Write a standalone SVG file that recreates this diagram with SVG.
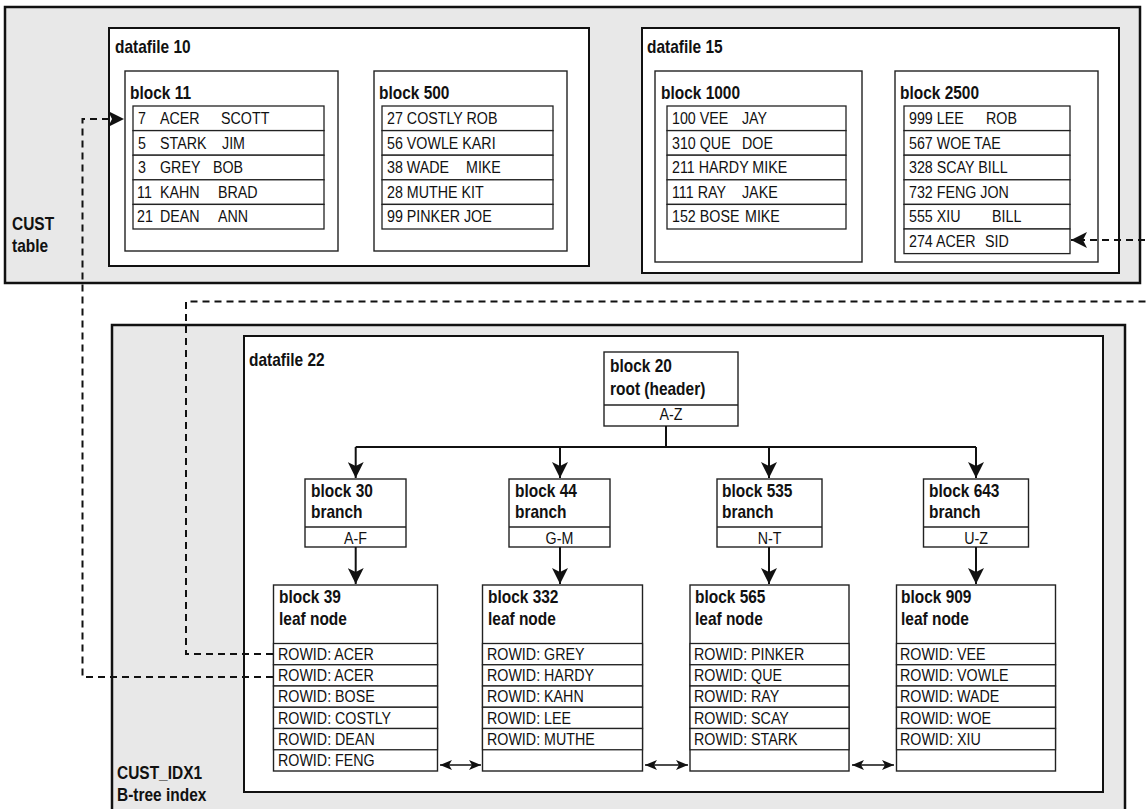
<svg xmlns="http://www.w3.org/2000/svg" width="1148" height="809" viewBox="0 0 1148 809">
<style>
.gray{fill:#e8e8e8;stroke:#111;stroke-width:2.5}
.df{fill:#fff;stroke:#111;stroke-width:2}
.blk{fill:#fff;stroke:#222;stroke-width:1.4}
.row{fill:#fff;stroke:#222;stroke-width:1.3}
.t{font-family:"Liberation Sans",Arial,sans-serif;font-size:17px;fill:#111;transform-box:fill-box;transform-origin:0 0;transform:scaleX(.84)}
.b{font-weight:bold;font-size:18px;transform:scaleX(.86)}
.c{text-anchor:middle;transform-origin:50% 50%}
.con{fill:none;stroke:#111;stroke-width:2}
.dash{fill:none;stroke:#111;stroke-width:2;stroke-dasharray:7,5}
.dbl{fill:none;stroke:#111;stroke-width:1.6}
</style>
<defs>
<marker id="ah" markerUnits="userSpaceOnUse" viewBox="0 0 16 16" markerWidth="16" markerHeight="16" refX="16" refY="8" orient="auto"><path d="M0,0 L16,8 L0,16 L4,8 z" fill="#111"/></marker>
<marker id="ahs" markerUnits="userSpaceOnUse" viewBox="0 0 12 10" markerWidth="12" markerHeight="10" refX="12" refY="5" orient="auto"><path d="M0,0 L12,5 L0,10 L3,5 z" fill="#111"/></marker>
<marker id="ahs0" markerUnits="userSpaceOnUse" viewBox="0 0 12 10" markerWidth="12" markerHeight="10" refX="0" refY="5" orient="auto"><path d="M12,0 L0,5 L12,10 L9,5 z" fill="#111"/></marker>
</defs>

<g id="cust-table">
<rect class="gray" x="5" y="7" width="1135" height="276"/>
<text class="t b" x="12" y="230">CUST</text>
<text class="t b" x="12" y="252">table</text>
</g>

<g id="datafile-10">
<rect class="df" x="109" y="28" width="480" height="238"/>
<text class="t b" x="115" y="53">datafile 10</text>
</g>

<g id="block-11">
<rect class="blk" x="125" y="71" width="213" height="180"/>
<text class="t b" x="130" y="99">block 11</text>
<rect class="row" x="133" y="106" width="191" height="24.6"/>
<rect class="row" x="133" y="130.6" width="191" height="24.6"/>
<rect class="row" x="133" y="155.2" width="191" height="24.6"/>
<rect class="row" x="133" y="179.8" width="191" height="24.6"/>
<rect class="row" x="133" y="204.4" width="191" height="24.6"/>
<text class="t" x="138" y="124">7</text><text class="t" x="160" y="124">ACER</text><text class="t" x="221" y="124">SCOTT</text>
<text class="t" x="138" y="148.6">5</text><text class="t" x="160" y="148.6">STARK</text><text class="t" x="222" y="148.6">JIM</text>
<text class="t" x="138" y="173.2">3</text><text class="t" x="160" y="173.2">GREY</text><text class="t" x="213" y="173.2">BOB</text>
<text class="t" x="137" y="197.8">11</text><text class="t" x="160" y="197.8">KAHN</text><text class="t" x="218" y="197.8">BRAD</text>
<text class="t" x="137" y="222.4">21</text><text class="t" x="160" y="222.4">DEAN</text><text class="t" x="218" y="222.4">ANN</text>
</g>

<g id="block-500">
<rect class="blk" x="374" y="71" width="193" height="180"/>
<text class="t b" x="379" y="99">block 500</text>
<rect class="row" x="382" y="106" width="171" height="24.6"/>
<rect class="row" x="382" y="130.6" width="171" height="24.6"/>
<rect class="row" x="382" y="155.2" width="171" height="24.6"/>
<rect class="row" x="382" y="179.8" width="171" height="24.6"/>
<rect class="row" x="382" y="204.4" width="171" height="24.6"/>
<text class="t" x="387" y="124">27 COSTLY ROB</text>
<text class="t" x="387" y="148.6">56 VOWLE KARI</text>
<text class="t" x="387" y="173.2">38 WADE</text><text class="t" x="466" y="173.2">MIKE</text>
<text class="t" x="387" y="197.8">28 MUTHE KIT</text>
<text class="t" x="387" y="222.4">99 PINKER JOE</text>
</g>

<g id="datafile-15">
<rect class="df" x="642" y="28" width="477" height="245"/>
<text class="t b" x="647" y="53">datafile 15</text>
</g>

<g id="block-1000">
<rect class="blk" x="655" y="71" width="207" height="191"/>
<text class="t b" x="661" y="99">block 1000</text>
<rect class="row" x="667" y="106" width="179" height="24.6"/>
<rect class="row" x="667" y="130.6" width="179" height="24.6"/>
<rect class="row" x="667" y="155.2" width="179" height="24.6"/>
<rect class="row" x="667" y="179.8" width="179" height="24.6"/>
<rect class="row" x="667" y="204.4" width="179" height="24.6"/>
<text class="t" x="672" y="124">100 VEE</text><text class="t" x="742" y="124">JAY</text>
<text class="t" x="672" y="148.6">310 QUE</text><text class="t" x="742" y="148.6">DOE</text>
<text class="t" x="672" y="173.2">211 HARDY MIKE</text>
<text class="t" x="672" y="197.8">111 RAY</text><text class="t" x="742" y="197.8">JAKE</text>
<text class="t" x="672" y="222.4">152 BOSE</text><text class="t" x="745" y="222.4">MIKE</text>
</g>

<g id="block-2500">
<rect class="blk" x="895" y="71" width="203" height="191"/>
<text class="t b" x="900" y="99">block 2500</text>
<rect class="row" x="904" y="106" width="166" height="24.6"/>
<rect class="row" x="904" y="130.6" width="166" height="24.6"/>
<rect class="row" x="904" y="155.2" width="166" height="24.6"/>
<rect class="row" x="904" y="179.8" width="166" height="24.6"/>
<rect class="row" x="904" y="204.4" width="166" height="24.6"/>
<rect class="row" x="904" y="229" width="166" height="24.6"/>
<text class="t" x="909" y="124">999 LEE</text><text class="t" x="986" y="124">ROB</text>
<text class="t" x="909" y="148.6">567 WOE</text><text class="t" x="974" y="148.6">TAE</text>
<text class="t" x="909" y="173.2">328 SCAY BILL</text>
<text class="t" x="909" y="197.8">732 FENG JON</text>
<text class="t" x="909" y="222.4">555 XIU</text><text class="t" x="992" y="222.4">BILL</text>
<text class="t" x="909" y="247">274 ACER</text><text class="t" x="985" y="247">SID</text>
</g>

<g id="cust-idx1">
<rect class="gray" x="112" y="325" width="1013" height="495"/>
<text class="t b" x="117" y="779">CUST_IDX1</text>
<text class="t b" x="117" y="801">B-tree index</text>
</g>

<g id="datafile-22">
<rect class="df" x="244" y="336" width="859" height="456"/>
<text class="t b" x="249" y="366">datafile 22</text>
</g>

<g id="block-20">
<rect class="blk" x="604" y="352" width="134" height="74"/>
<line x1="604" y1="405" x2="738" y2="405" stroke="#222" stroke-width="1.4"/>
<text class="t b" x="610" y="372">block 20</text>
<text class="t b" x="610" y="395">root (header)</text>
<text class="t c" x="671" y="420">A-Z</text>
</g>

<g id="block-30">
<rect class="blk" x="305" y="479" width="101" height="68"/>
<line x1="305" y1="527" x2="406" y2="527" stroke="#222" stroke-width="1.4"/>
<text class="t b" x="311" y="497">block 30</text>
<text class="t b" x="311" y="518">branch</text>
<text class="t c" x="355.5" y="544">A-F</text>
</g>
<g id="block-44">
<rect class="blk" x="509" y="479" width="101" height="68"/>
<line x1="509" y1="527" x2="610" y2="527" stroke="#222" stroke-width="1.4"/>
<text class="t b" x="515" y="497">block 44</text>
<text class="t b" x="515" y="518">branch</text>
<text class="t c" x="559.5" y="544">G-M</text>
</g>
<g id="block-535">
<rect class="blk" x="717" y="479" width="105" height="68"/>
<line x1="717" y1="527" x2="822" y2="527" stroke="#222" stroke-width="1.4"/>
<text class="t b" x="722" y="497">block 535</text>
<text class="t b" x="722" y="518">branch</text>
<text class="t c" x="769.5" y="544">N-T</text>
</g>
<g id="block-643">
<rect class="blk" x="923.5" y="479" width="105" height="68"/>
<line x1="923.5" y1="527" x2="1028.5" y2="527" stroke="#222" stroke-width="1.4"/>
<text class="t b" x="929" y="497">block 643</text>
<text class="t b" x="929" y="518">branch</text>
<text class="t c" x="976" y="544">U-Z</text>
</g>

<g id="block-39">
<rect class="blk" x="273.5" y="585" width="164" height="186"/>
<rect class="row" x="273.5" y="643.5" width="164" height="21.25"/>
<rect class="row" x="273.5" y="664.75" width="164" height="21.25"/>
<rect class="row" x="273.5" y="686" width="164" height="21.25"/>
<rect class="row" x="273.5" y="707.25" width="164" height="21.25"/>
<rect class="row" x="273.5" y="728.5" width="164" height="21.25"/>
<text class="t b" x="279" y="603">block 39</text>
<text class="t b" x="279" y="625">leaf node</text>
<text class="t" x="278" y="660">ROWID: ACER</text>
<text class="t" x="278" y="681.25">ROWID: ACER</text>
<text class="t" x="278" y="702.5">ROWID: BOSE</text>
<text class="t" x="278" y="723.75">ROWID: COSTLY</text>
<text class="t" x="278" y="745">ROWID: DEAN</text>
<text class="t" x="278" y="766.25">ROWID: FENG</text>
</g>
<g id="block-332">
<rect class="blk" x="482.5" y="585" width="160" height="186"/>
<rect class="row" x="482.5" y="643.5" width="160" height="21.25"/>
<rect class="row" x="482.5" y="664.75" width="160" height="21.25"/>
<rect class="row" x="482.5" y="686" width="160" height="21.25"/>
<rect class="row" x="482.5" y="707.25" width="160" height="21.25"/>
<rect class="row" x="482.5" y="728.5" width="160" height="21.25"/>
<text class="t b" x="488" y="603">block 332</text>
<text class="t b" x="488" y="625">leaf node</text>
<text class="t" x="487" y="660">ROWID: GREY</text>
<text class="t" x="487" y="681.25">ROWID: HARDY</text>
<text class="t" x="487" y="702.5">ROWID: KAHN</text>
<text class="t" x="487" y="723.75">ROWID: LEE</text>
<text class="t" x="487" y="745">ROWID: MUTHE</text>
</g>
<g id="block-565">
<rect class="blk" x="690" y="585" width="159" height="186"/>
<rect class="row" x="690" y="643.5" width="159" height="21.25"/>
<rect class="row" x="690" y="664.75" width="159" height="21.25"/>
<rect class="row" x="690" y="686" width="159" height="21.25"/>
<rect class="row" x="690" y="707.25" width="159" height="21.25"/>
<rect class="row" x="690" y="728.5" width="159" height="21.25"/>
<text class="t b" x="695" y="603">block 565</text>
<text class="t b" x="695" y="625">leaf node</text>
<text class="t" x="694" y="660">ROWID: PINKER</text>
<text class="t" x="694" y="681.25">ROWID: QUE</text>
<text class="t" x="694" y="702.5">ROWID: RAY</text>
<text class="t" x="694" y="723.75">ROWID: SCAY</text>
<text class="t" x="694" y="745">ROWID: STARK</text>
</g>
<g id="block-909">
<rect class="blk" x="896.5" y="585" width="159" height="186"/>
<rect class="row" x="896.5" y="643.5" width="159" height="21.25"/>
<rect class="row" x="896.5" y="664.75" width="159" height="21.25"/>
<rect class="row" x="896.5" y="686" width="159" height="21.25"/>
<rect class="row" x="896.5" y="707.25" width="159" height="21.25"/>
<rect class="row" x="896.5" y="728.5" width="159" height="21.25"/>
<text class="t b" x="901" y="603">block 909</text>
<text class="t b" x="901" y="625">leaf node</text>
<text class="t" x="900" y="660">ROWID: VEE</text>
<text class="t" x="900" y="681.25">ROWID: VOWLE</text>
<text class="t" x="900" y="702.5">ROWID: WADE</text>
<text class="t" x="900" y="723.75">ROWID: WOE</text>
<text class="t" x="900" y="745">ROWID: XIU</text>
</g>

<g id="connectors">
<path class="con" d="M666,426 V447 M355.7,447 H976"/>
<path class="con" d="M355.7,447 V478" marker-end="url(#ah)"/>
<path class="con" d="M560,447 V478" marker-end="url(#ah)"/>
<path class="con" d="M769,447 V478" marker-end="url(#ah)"/>
<path class="con" d="M976,447 V478" marker-end="url(#ah)"/>
<path class="con" d="M355.7,547 V584" marker-end="url(#ah)"/>
<path class="con" d="M560,547 V584" marker-end="url(#ah)"/>
<path class="con" d="M769,547 V584" marker-end="url(#ah)"/>
<path class="con" d="M976,547 V584" marker-end="url(#ah)"/>
<path class="dbl" d="M440,765 H481" marker-start="url(#ahs0)" marker-end="url(#ahs)"/>
<path class="dbl" d="M645,765 H688" marker-start="url(#ahs0)" marker-end="url(#ahs)"/>
<path class="dbl" d="M852,765 H894" marker-start="url(#ahs0)" marker-end="url(#ahs)"/>
<path class="dash" d="M273,677 H82.5 V119 H124" marker-end="url(#ah)"/>
<path class="dash" d="M273,654 H186 V301.5 H1165 V240 H1071" marker-end="url(#ah)"/>
</g>
</svg>
